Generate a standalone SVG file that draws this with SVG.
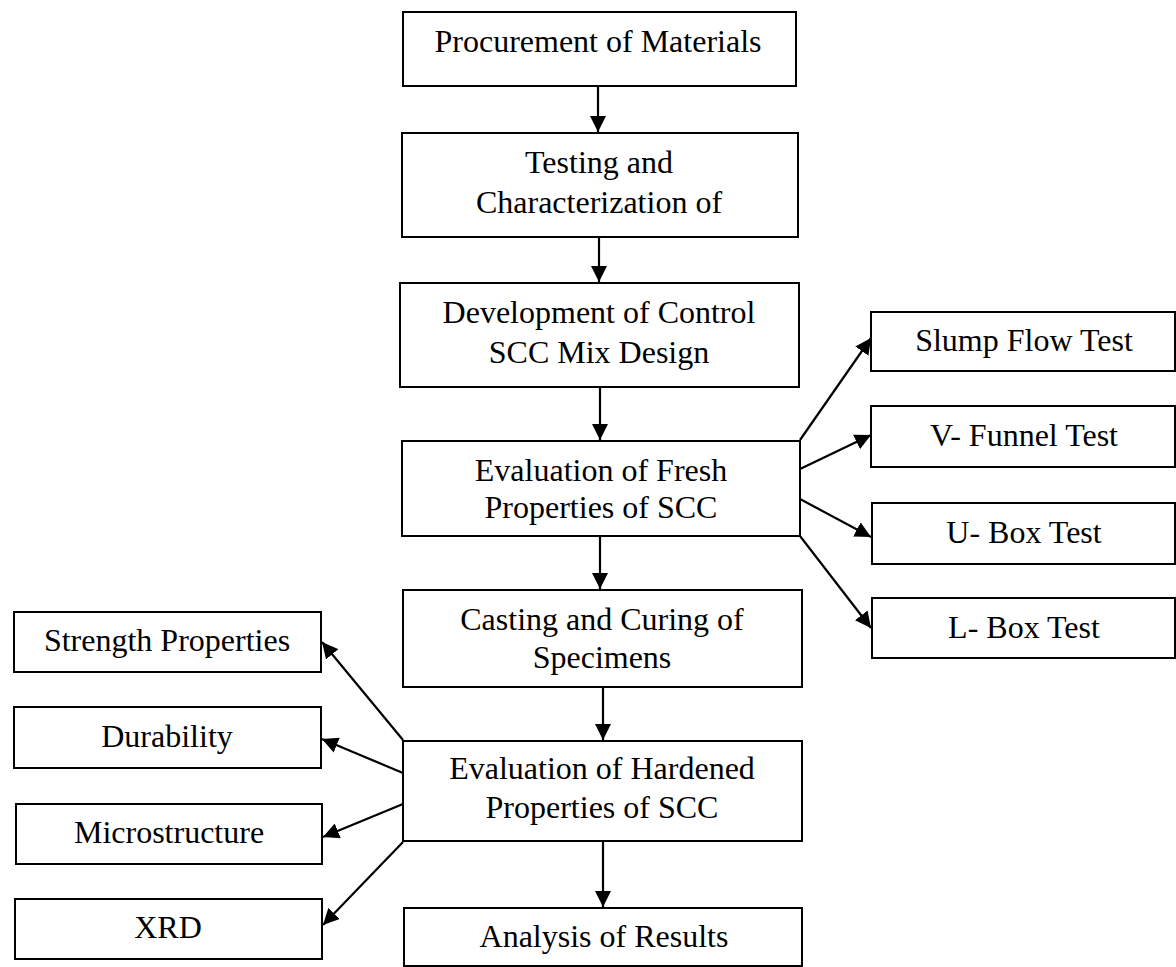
<svg xmlns="http://www.w3.org/2000/svg" width="1176" height="967" viewBox="0 0 1176 967">
<style>
rect{fill:#fff;stroke:#000;stroke-width:2}
text{font-family:"Liberation Serif","Times New Roman",serif;font-size:32px;fill:#000;text-anchor:middle}
line{stroke:#000;stroke-width:2.2}
</style>
<defs>
<marker id="ah" markerUnits="userSpaceOnUse" markerWidth="17" markerHeight="16" refX="16" refY="8" orient="auto">
<path d="M0,0 L16,8 L0,16 Z" fill="#000"/>
</marker>
</defs>
<rect x="0" y="0" width="1176" height="967" style="stroke:none"/>
<g id="connectors">
<line x1="598" y1="86" x2="598" y2="132" marker-end="url(#ah)"/>
<line x1="599" y1="237" x2="599" y2="282" marker-end="url(#ah)"/>
<line x1="600" y1="387" x2="600" y2="440" marker-end="url(#ah)"/>
<line x1="600" y1="536" x2="600" y2="589" marker-end="url(#ah)"/>
<line x1="603" y1="687" x2="603" y2="740" marker-end="url(#ah)"/>
<line x1="603" y1="841" x2="603" y2="907" marker-end="url(#ah)"/>
<line x1="800" y1="440" x2="871" y2="338" marker-end="url(#ah)"/>
<line x1="800" y1="469" x2="871" y2="435" marker-end="url(#ah)"/>
<line x1="800" y1="499" x2="871" y2="537" marker-end="url(#ah)"/>
<line x1="800" y1="536" x2="871" y2="628" marker-end="url(#ah)"/>
<line x1="403" y1="740" x2="322" y2="642" marker-end="url(#ah)"/>
<line x1="403" y1="773" x2="322" y2="739" marker-end="url(#ah)"/>
<line x1="403" y1="804" x2="323" y2="837" marker-end="url(#ah)"/>
<line x1="403" y1="842" x2="323" y2="925" marker-end="url(#ah)"/>
</g>
<g id="n1"><rect x="403" y="12" width="393" height="74"/><text x="598" y="52">Procurement of Materials</text></g>
<g id="n2"><rect x="402" y="133" width="396" height="104"/><text x="599" y="173">Testing and</text><text x="599" y="213">Characterization of</text></g>
<g id="n3"><rect x="400" y="283" width="399" height="104"/><text x="599" y="323">Development of Control</text><text x="599" y="363">SCC Mix Design</text></g>
<g id="n4"><rect x="402" y="441" width="398" height="95"/><text x="601" y="481">Evaluation of Fresh</text><text x="601" y="518">Properties of SCC</text></g>
<g id="n5"><rect x="403" y="590" width="399" height="97"/><text x="602" y="630">Casting and Curing of</text><text x="602" y="668">Specimens</text></g>
<g id="n6"><rect x="403" y="741" width="399" height="100"/><text x="602" y="779">Evaluation of Hardened</text><text x="602" y="818">Properties of SCC</text></g>
<g id="n7"><rect x="404" y="908" width="398" height="58"/><text x="604" y="947">Analysis of Results</text></g>
<g id="r1"><rect x="871" y="312" width="304" height="59"/><text x="1024" y="351">Slump Flow Test</text></g>
<g id="r2"><rect x="871" y="406" width="304" height="61"/><text x="1024" y="446">V- Funnel Test</text></g>
<g id="r3"><rect x="872" y="503" width="303" height="61"/><text x="1024" y="543">U- Box Test</text></g>
<g id="r4"><rect x="872" y="598" width="303" height="60"/><text x="1024" y="638">L- Box Test</text></g>
<g id="l1"><rect x="14" y="612" width="307" height="60"/><text x="167" y="651">Strength Properties</text></g>
<g id="l2"><rect x="14" y="707" width="307" height="61"/><text x="167" y="747">Durability</text></g>
<g id="l3"><rect x="16" y="804" width="306" height="60"/><text x="169" y="843">Microstructure</text></g>
<g id="l4"><rect x="15" y="899" width="307" height="60"/><text x="168" y="938">XRD</text></g>
</svg>
